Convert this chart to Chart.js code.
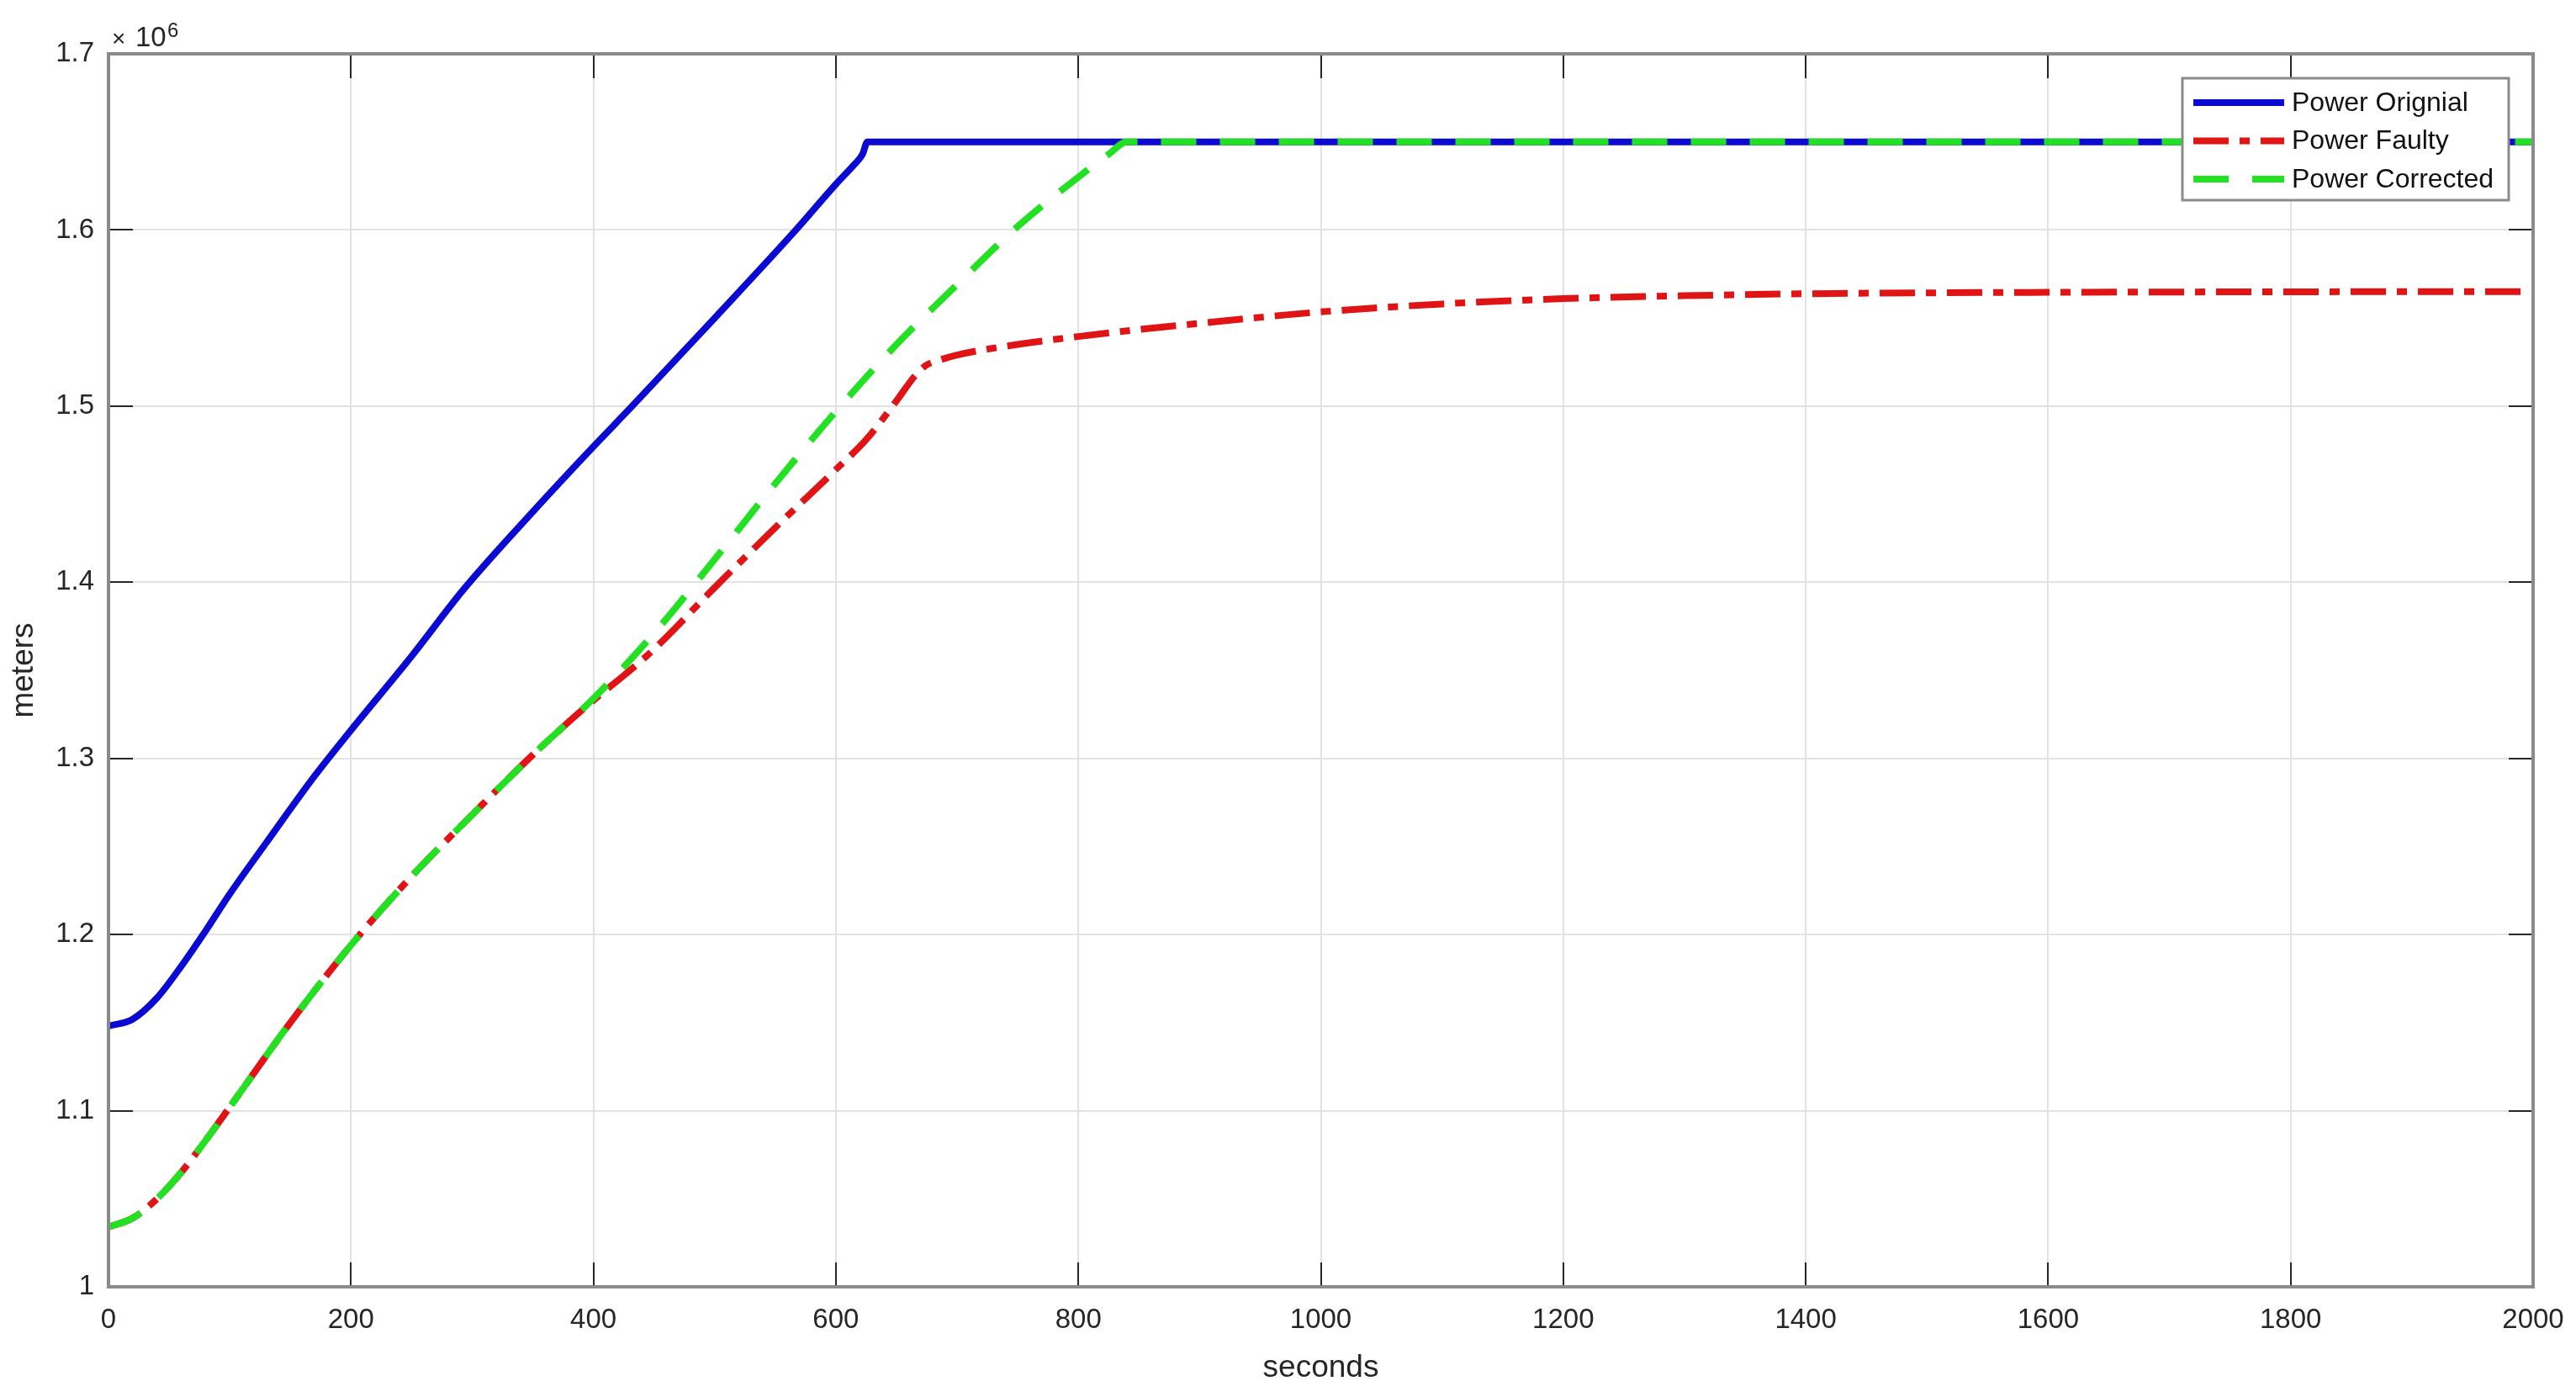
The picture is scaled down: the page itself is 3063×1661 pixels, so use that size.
<!DOCTYPE html>
<html>
<head>
<meta charset="utf-8">
<title>Power</title>
<script src="https://cdn.jsdelivr.net/npm/chart.js@4.4.1/dist/chart.umd.min.js"></script>
<style>
    html, body { margin: 0; padding: 0; background: #fff; }
    #wrap { position: relative; width: 3063px; height: 1661px; }
</style>
</head>
<body>
<div id="wrap"><canvas id="powerChart"></canvas></div>
<script>
// DATA (seconds / meters)
const originalTime = [0, 20, 40, 60, 80, 100, 130, 170, 200, 250, 293, 350, 400, 432, 500, 567, 600, 615, 622, 626, 700, 1000, 1500, 2000];
const originalPower = [1148000, 1152000, 1164000, 1182000, 1202000, 1223000, 1252000, 1290000, 1316000, 1358000, 1396000, 1440000, 1477000, 1500000, 1550000, 1600000, 1626000, 1637000, 1643000, 1650000, 1650000, 1650000, 1650000, 1650000];

const faultyTime = [0, 20, 40, 60, 80, 100, 150, 200, 250, 300, 350, 400, 425, 450, 500, 550, 600, 625, 650, 665, 674, 685, 700, 750, 800, 850, 900, 1000, 1100, 1200, 1300, 1400, 1500, 1600, 1800, 2000];
const faultyPower = [1034000, 1039000, 1050000, 1065000, 1083000, 1102000, 1150000, 1194000, 1233000, 1268000, 1302000, 1333000, 1347000, 1362000, 1397000, 1431000, 1464000, 1481000, 1503000, 1517000, 1523000, 1526000, 1529000, 1535000, 1539500, 1543500, 1547000, 1553500, 1558000, 1561000, 1562700, 1563800, 1564300, 1564600, 1564900, 1565000];

const correctedTime = [0, 20, 40, 60, 80, 100, 150, 200, 250, 300, 350, 400, 450, 500, 550, 600, 650, 700, 750, 800, 825, 840, 900, 1200, 1600, 2000];
const correctedPower = [1034000, 1039000, 1050000, 1065000, 1083000, 1102000, 1150000, 1194000, 1233000, 1268000, 1302000, 1334000, 1371000, 1413000, 1456000, 1497000, 1535000, 1569000, 1602000, 1630000, 1643000, 1650000, 1650000, 1650000, 1650000, 1650000];

const seriesNames = ["Power Orignial", "Power Faulty", "Power Corrected"];
const xTicks = [0, 200, 400, 600, 800, 1000, 1200, 1400, 1600, 1800, 2000];
const yTicks = [1000000, 1100000, 1200000, 1300000, 1400000, 1500000, 1600000, 1700000];

const FONT = "'Liberation Sans', Arial, Helvetica, sans-serif";

function toPoints(xs, ys) {
    return xs.map((x, i) => ({ x: x, y: ys[i] }));
}

// MATLAB STYLE BOX, INNER TICKS, EXPONENT AND LEGEND
const matlabAxes = {
    id: "matlabAxes",
    afterDatasetsDraw(chart) {
        const ctx = chart.ctx;
        const a = chart.chartArea;
        const xs = chart.scales.x;
        const ys = chart.scales.y;
        ctx.save();
        ctx.strokeStyle = "#262626";
        ctx.lineWidth = 2;
        ctx.beginPath();
        xTicks.forEach(t => {
            const px = Math.round(xs.getPixelForValue(t));
            ctx.moveTo(px, a.bottom); ctx.lineTo(px, a.bottom - 29);
            ctx.moveTo(px, a.top); ctx.lineTo(px, a.top + 29);
        });
        yTicks.forEach(t => {
            const py = Math.round(ys.getPixelForValue(t));
            ctx.moveTo(a.left, py); ctx.lineTo(a.left + 29, py);
            ctx.moveTo(a.right, py); ctx.lineTo(a.right - 29, py);
        });
        ctx.stroke();
        ctx.strokeStyle = "#8a8a8a";
        ctx.lineWidth = 4;
        ctx.strokeRect(a.left, a.top, a.right - a.left, a.bottom - a.top);
        ctx.restore();
    },
    afterDraw(chart) {
        const ctx = chart.ctx;
        const a = chart.chartArea;
        ctx.save();

        // x10^6 exponent
        ctx.fillStyle = "#262626";
        ctx.textBaseline = "alphabetic";
        ctx.textAlign = "left";
        ctx.font = "28px " + FONT;
        ctx.fillText("\u00d7", a.left + 4, a.top - 9);
        ctx.font = "33px " + FONT;
        ctx.fillText("10", a.left + 32, a.top - 9);
        ctx.font = "24px " + FONT;
        ctx.fillText("6", a.left + 70, a.top - 20);

        // legend
        const w = 388, h = 145;
        const lx = a.right - 29 - w;
        const ly = a.top + 29;
        ctx.fillStyle = "#fff";
        ctx.fillRect(lx, ly, w, h);
        ctx.strokeStyle = "#8a8a8a";
        ctx.lineWidth = 3;
        ctx.strokeRect(lx, ly, w, h);
        ctx.font = "32px " + FONT;
        ctx.textBaseline = "middle";
        chart.data.datasets.forEach((ds, i) => {
            const cy = ly + 29 + i * 45.5;
            ctx.strokeStyle = ds.borderColor;
            ctx.lineWidth = ds.borderWidth;
            ctx.setLineDash(ds.borderDash || []);
            ctx.beginPath();
            ctx.moveTo(lx + 13, cy);
            ctx.lineTo(lx + 121, cy);
            ctx.stroke();
            ctx.setLineDash([]);
            ctx.fillStyle = "#111";
            ctx.fillText(ds.label, lx + 130, cy + 1);
        });
        ctx.restore();
    }
};

// CHART JS SET-UP BLOCK
const setupBlock = {
    datasets: [
        {
            label: seriesNames[0],
            data: toPoints(originalTime, originalPower),
            borderColor: "#0a0ad2",
            borderWidth: 8,
            order: 3
        },
        {
            label: seriesNames[1],
            data: toPoints(faultyTime, faultyPower),
            borderColor: "#e01414",
            borderWidth: 8,
            borderDash: [42, 13, 12, 13],
            order: 2
        },
        {
            label: seriesNames[2],
            data: toPoints(correctedTime, correctedPower),
            borderColor: "#22e022",
            borderWidth: 8,
            borderDash: [42, 28],
            order: 1
        }
    ]
};

// CHART JS CONFIG BLOCK
const configBlock = {
    type: "line",
    data: setupBlock,
    options: {
        responsive: true,
        maintainAspectRatio: false,
        animation: false,
        events: [],
        layout: { padding: { left: 0, right: 51, top: 64, bottom: 0 } },
        elements: {
            point: { radius: 0 },
            line: { cubicInterpolationMode: "monotone", fill: false, borderCapStyle: "butt" }
        },
        plugins: {
            legend: { display: false },
            tooltip: { enabled: false }
        },
        scales: {
            x: {
                type: "linear",
                min: 0,
                max: 2000,
                afterBuildTicks: s => { s.ticks = xTicks.map(v => ({ value: v })); },
                afterFit: s => { s.height = 131; s.paddingLeft = 0; s.paddingRight = 0; },
                grid: { color: "#e2e2e2", lineWidth: 2, drawTicks: false },
                border: { display: false },
                ticks: {
                    padding: 20,
                    color: "#262626",
                    font: { family: FONT, size: 33 },
                    maxRotation: 0,
                    callback: v => String(v)
                },
                title: {
                    display: true,
                    text: "seconds",
                    color: "#262626",
                    font: { family: FONT, size: 37 },
                    padding: { top: 0, bottom: 12 }
                }
            },
            y: {
                type: "linear",
                min: 1000000,
                max: 1700000,
                afterBuildTicks: s => { s.ticks = yTicks.map(v => ({ value: v })); },
                afterFit: s => { s.width = 129; },
                grid: { color: "#e2e2e2", lineWidth: 2, drawTicks: false },
                border: { display: false },
                ticks: {
                    padding: 17,
                    color: "#262626",
                    font: { family: FONT, size: 33 },
                    callback: v => String(Math.round(v / 100000) / 10)
                },
                title: {
                    display: true,
                    text: "meters",
                    color: "#262626",
                    font: { family: FONT, size: 37 },
                    padding: { top: 7, bottom: 0 }
                }
            }
        }
    },
    plugins: [matlabAxes]
};

// CHART JS RENDER BLOCK
const powerChart = new Chart(document.getElementById("powerChart").getContext("2d"), configBlock);
</script>
</body>
</html>
